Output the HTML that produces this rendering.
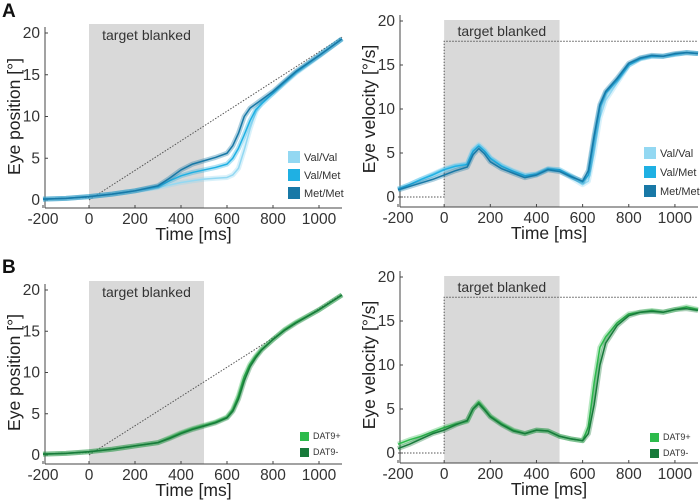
<!DOCTYPE html>
<html><head><meta charset="utf-8"><style>
body{margin:0;background:#fff;width:700px;height:501px;overflow:hidden;font-family:"Liberation Sans",sans-serif}
svg{position:absolute;left:0;top:0}
</style></head><body>
<svg id="c" width="700" height="501"></svg>
<script>
const posTimes=[-200,-100,0,100,200,300,350,400,450,500,550,600,625,650,675,700,725,750,800,850,900,1000,1100];
const posMetMet=[0.1,0.2,0.4,0.7,1.1,1.7,2.6,3.6,4.3,4.7,5.1,5.6,6.5,8,10,11,11.5,12,13,14.2,15.4,17.3,19.3];
const posValMet=[0.1,0.2,0.4,0.7,1.1,1.6,2.3,2.9,3.3,3.6,3.9,4.3,5,6.2,7.8,9.5,10.8,11.5,12.8,14.1,15.3,17.3,19.3];
const posValVal=[0.1,0.2,0.4,0.7,1.1,1.5,1.8,2.1,2.3,2.5,2.6,2.7,3.0,3.8,6,8.5,10.5,11.8,12.8,14,15.2,17.2,19.3];
const posDatPlus=[0.1,0.2,0.4,0.7,1.1,1.5,2.1,2.7,3.2,3.6,4.0,4.6,5.5,7.2,9.5,11,12,12.8,14,15.2,16.1,17.6,19.4];
const posDatMinus=[0.1,0.2,0.4,0.7,1.1,1.5,2.0,2.6,3.1,3.5,3.9,4.5,5.3,6.8,9.0,10.7,11.8,12.7,14.0,15.1,16,17.6,19.4];
const velTimes=[-200,-150,-100,-50,0,50,100,125,150,175,200,250,300,350,400,450,500,550,600,625,650,675,700,750,800,850,900,950,1000,1050,1100];
const velMetMet=[0.8,1.2,1.6,2.0,2.5,3,3.4,4.8,5.5,4.9,4.0,3.2,2.7,2.2,2.5,3.1,2.9,2.3,1.8,3,7,10.5,12,13.5,15.2,15.8,16.1,16,16.3,16.4,16.3];
const velValMet=[0.9,1.4,2.0,2.5,3.1,3.5,3.7,5.2,5.8,5.2,4.4,3.5,2.9,2.4,2.6,3.2,3.1,2.4,1.7,2.5,6.5,10.2,11.8,13.3,15.0,15.7,16.0,16,16.2,16.4,16.3];
const velValVal=[0.9,1.4,2.0,2.6,3.2,3.6,3.8,5.4,6.0,5.4,4.5,3.6,3.0,2.5,2.6,3.2,3.0,2.2,1.4,1.8,5,9,11,13,15,15.8,16.0,16,16.2,16.4,16.3];
const velDatPlus=[1.0,1.5,1.9,2.4,2.9,3.3,3.6,5,5.8,5,4.2,3.3,2.6,2.2,2.6,2.5,1.9,1.6,1.4,3,8,12,13.2,14.8,15.8,16,16.2,16,16.3,16.6,16.3];
const velDatMinus=[0.5,1.0,1.6,2.2,2.6,3.2,3.7,5,5.6,4.9,4.1,3.2,2.5,2.2,2.6,2.5,1.9,1.6,1.4,2.2,5.5,10,12.5,14.5,15.6,16,16.1,16,16.3,16.4,16.2];
const xTicks=[-200,0,200,400,600,800,1000];
const yTicks=[0,5,10,15,20];
const targetPosEnd=19.5;
const targetVel=17.7;

const NS="http://www.w3.org/2000/svg";
const svg=document.getElementById('c');
function mk(tag,attrs,parent,text){const e=document.createElementNS(NS,tag);for(const k in attrs)e.setAttribute(k,attrs[k]);if(text!==undefined)e.textContent=text;(parent||svg).appendChild(e);return e;}

function panel(p){
  const g=mk('g',{});
  
  
  const X=t=>p.xa+(t+200)/1300*(p.xb-p.xa);
  const Y=v=>p.y0+(p.y20-p.y0)*v/20;
  const gray=mk('rect',{x:X(0),y:p.gt,width:X(500)-X(0),height:p.ab-p.gt,fill:'#d9d9d9'},g);
  
  
  const gl=mk('text',{x:(X(0)+X(500))/2,y:p.gt+16,'text-anchor':'middle','font-size':14,fill:'#333'},g,'target blanked');
  
  
  const ax=p.xa+2;
  mk('line',{x1:ax,y1:p.y20-6,x2:ax,y2:p.ab,stroke:'#444','stroke-width':1},g);
  mk('line',{x1:ax,y1:p.ab,x2:p.xb,y2:p.ab,stroke:'#444','stroke-width':1},g);
  xTicks.forEach(t=>{
    mk('line',{x1:X(t),y1:p.ab,x2:X(t),y2:p.ab-3,stroke:'#444'},g);
    const tl=mk('text',{x:X(t),y:p.ab+16,'text-anchor':'middle','font-size':15.5,fill:'#333'},g,String(t));
    
    
  });
  yTicks.forEach(v=>{
    mk('line',{x1:ax,y1:Y(v),x2:ax+3,y2:Y(v),stroke:'#444'},g);
    const tl=mk('text',{x:ax-5,y:Y(v)+5,'text-anchor':'end','font-size':15.5,fill:'#333'},g,String(v));
    
    
  });
  const xt=mk('text',{x:(ax+p.xb)/2,y:p.ab+32,'text-anchor':'middle','font-size':17.5,fill:'#222'},g,'Time [ms]');
  
  
  const yt=mk('text',{x:0,y:0,'text-anchor':'middle','font-size':17.5,fill:'#222',transform:`translate(${p.ytx},${(p.y20+p.y0)/2}) rotate(-90)`},g,p.ytitle);
  
  
  let d;
  if(p.kind==='pos'){d=`M${X(-200)},${Y(0.15)} L${X(0)},${Y(0.3)} M${X(0)},${Y(0)} L${X(1100)},${Y(targetPosEnd)}`;}
  else{d=`M${X(-200)},${Y(0)} L${X(0)},${Y(0)} L${X(0)},${Y(targetVel)} L${X(1100)},${Y(targetVel)}`;}
  const tg=mk('path',{d:d,fill:'none',stroke:'#555','stroke-width':1,'stroke-dasharray':'1.5,1.5'},g);
  
  
  p.series.forEach(s=>{
    const pts=p.times.map((t,i)=>X(t)+','+Y(s.v[i])).join(' ');
    mk('polyline',{points:pts,fill:'none',stroke:s.c,'stroke-opacity':0.35,'stroke-width':5,'stroke-linejoin':'round'},g);
    const l=mk('polyline',{points:pts,fill:'none',stroke:s.c,'stroke-width':1.5,'stroke-linejoin':'round'},g);
    
    
  });
  p.series.forEach((s,i)=>{
    const lg=mk('g',{},g);
    
    
    mk('rect',{x:p.lx,y:p.ly+i*p.lgap,width:p.lsz,height:p.lsz,fill:s.c},lg);
    mk('text',{x:p.lx+p.lsz+4,y:p.ly+i*p.lgap+p.lsz-2,'font-size':p.lfs,fill:'#333'},lg,s.n);
  });
}
const blue=[{n:'Val/Val',c:'#93d8f2'},{n:'Val/Met',c:'#1fb0e3'},{n:'Met/Met',c:'#1878a6'}];
const green=[{n:'DAT9+',c:'#2dbb4c'},{n:'DAT9-',c:'#177a3a'}];
panel({name:'panel-a-position',kind:'pos',xa:43,xb:342,y0:200,y20:33,gt:24,ab:208,ytx:20,ytitle:'Eye position  [°]',times:posTimes,
 series:[{...blue[0],v:posValVal},{...blue[1],v:posValMet},{...blue[2],v:posMetMet}],lx:288,ly:151,lgap:18,lsz:12,lfs:11});
panel({name:'panel-a-velocity',kind:'vel',xa:398,xb:698,y0:197,y20:21,gt:20,ab:207,ytx:375,ytitle:'Eye velocity [°/s]',times:velTimes,
 series:[{...blue[0],v:velValVal},{...blue[1],v:velValMet},{...blue[2],v:velMetMet}],lx:644,ly:147,lgap:19,lsz:12,lfs:11});
panel({name:'panel-b-position',kind:'pos',xa:43,xb:342,y0:455,y20:290,gt:281,ab:464,ytx:20,ytitle:'Eye position  [°]',times:posTimes,
 series:[{...green[0],v:posDatPlus},{...green[1],v:posDatMinus}],lx:300,ly:432,lgap:16,lsz:9,lfs:9});
panel({name:'panel-b-velocity',kind:'vel',xa:398,xb:698,y0:453,y20:277,gt:276,ab:463,ytx:375,ytitle:'Eye velocity [°/s]',times:velTimes,
 series:[{...green[0],v:velDatPlus},{...green[1],v:velDatMinus}],lx:650,ly:433,lgap:16,lsz:9,lfs:9});
const A=mk('text',{x:2,y:17,'font-size':19,'font-weight':'bold',fill:'#111'},svg,'A');


const B=mk('text',{x:2,y:273,'font-size':19,'font-weight':'bold',fill:'#111'},svg,'B');


</script>
</body></html>
